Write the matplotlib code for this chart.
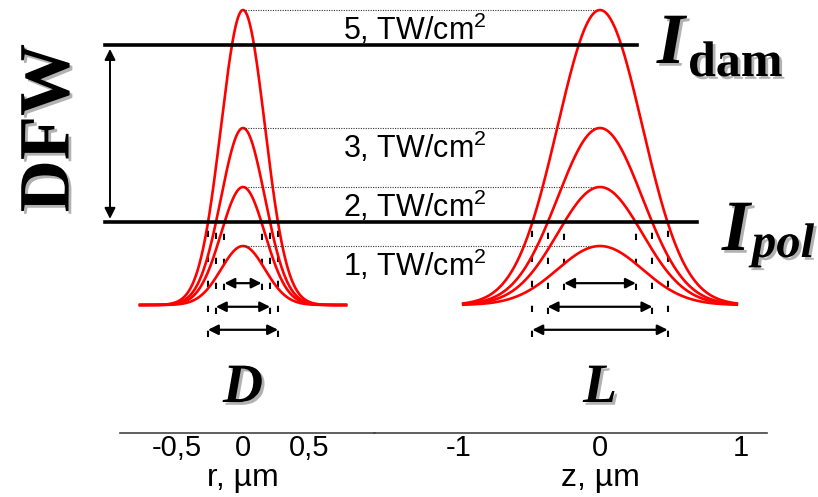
import numpy as np
import matplotlib.pyplot as plt
import matplotlib.patheffects as pe

plt.rcParams['font.family'] = ['Liberation Sans', 'DejaVu Sans']
plt.rcParams['mathtext.fontset'] = 'custom'
plt.rcParams['mathtext.rm'] = 'Liberation Sans'

# peak intensities of the pulses, TW/cm^2
peaks = [5, 3, 2, 1]
peak_labels = ["5, TW/cm$^{2}$", "3, TW/cm$^{2}$", "2, TW/cm$^{2}$", "1, TW/cm$^{2}$"]

# thresholds, TW/cm^2
I_DAM = 4.4
I_POL = 1.4

# gaussian half widths (1/e) of the profiles, um
W_R = 0.235
W_Z = 0.425
R_MAX = 0.78
Z_MAX = 0.97

# widths D and L are shown for these peaks, one row of arrows each
width_peaks = [2, 3, 5]
arrow_rows = [0.37, -0.03, -0.42]

r_ticks = [-0.5, 0, 0.5]
r_ticklabels = ["-0,5", "0", "0,5"]
z_ticks = [-1, 0, 1]
z_ticklabels = ["-1", "0", "1"]

# layout (pixels of the 818x497 picture)
W, H = 818, 497
R0_PX, R_SCALE = 243, 132
Z0_PX, Z_SCALE = 600, 141
BASE_PX, I_SCALE = 305, 59

fig = plt.figure(figsize=(W / 100, H / 100), dpi=100)
ax_r = fig.add_axes([0, 0, 1, 1])
ax_z = fig.add_axes([0, 0, 1, 1])
ax_z.patch.set_alpha(0)

ylim = (-(H - BASE_PX) / I_SCALE, BASE_PX / I_SCALE)
ax_r.set_xlim(-R0_PX / R_SCALE, (W - R0_PX) / R_SCALE)
ax_z.set_xlim(-Z0_PX / Z_SCALE, (W - Z0_PX) / Z_SCALE)
for ax in (ax_r, ax_z):
    ax.set_ylim(*ylim)
    for s in ('left', 'right', 'top'):
        ax.spines[s].set_visible(False)
    ax.set_yticks([])

red = '#ff0000'
r = np.linspace(-R_MAX, R_MAX, 400)
z = np.linspace(-Z_MAX, Z_MAX, 400)
for p in peaks:
    ax_r.plot(r, p * np.exp(-(r / W_R) ** 2), color=red, lw=1.9, zorder=3)
    ax_z.plot(z, p * np.exp(-(z / W_Z) ** 2), color=red, lw=1.9, zorder=3)

# dotted level lines from the D peak to the L peak
z_of_r0 = (R0_PX - Z0_PX) / Z_SCALE
for p, lab in zip(peaks, peak_labels):
    ax_z.hlines(p, z_of_r0, 0, colors='#333333', linestyles=(0, (1, 1.2)), lw=0.8, zorder=1)
    ax_z.text(-1.31, p - 0.33, lab, ha='center', va='center', fontsize=22)

# thresholds
ax_z.axhline(I_DAM, xmin=105 / W, xmax=637 / W, color='black', lw=2.6, zorder=4)
ax_z.axhline(I_POL, xmin=105 / W, xmax=697 / W, color='black', lw=2.6, zorder=4)
ax_z.annotate('', xy=(110 / W, I_DAM - 0.06), xytext=(110 / W, I_POL + 0.06),
              xycoords=ax_z.get_yaxis_transform(), textcoords=ax_z.get_yaxis_transform(),
              arrowprops=dict(arrowstyle='<|-|>', color='black', lw=1.4,
                              mutation_scale=16, shrinkA=0, shrinkB=0))

# widths at the polarisation threshold
for ax, w in ((ax_r, W_R), (ax_z, W_Z)):
    for p, row in zip(width_peaks, arrow_rows):
        half = w * np.sqrt(np.log(p / I_POL))
        ax.vlines([-half, half], row - 0.12, I_POL, colors='black',
                  linestyles=(0, (3, 9)), lw=1.5, zorder=2)
        ax.annotate('', xy=(-half, row), xytext=(half, row),
                    arrowprops=dict(arrowstyle='<|-|>', color='black', lw=1.6,
                                    mutation_scale=15, shrinkA=0, shrinkB=0))

# bottom axis
y_axis = (BASE_PX - 433) / I_SCALE
ax_r.spines['bottom'].set_position(('data', y_axis))
ax_r.spines['bottom'].set_bounds((120 - R0_PX) / R_SCALE, 1.0)
ax_z.spines['bottom'].set_position(('data', y_axis))
ax_z.spines['bottom'].set_bounds(-1.6, (767 - Z0_PX) / Z_SCALE)
for ax, ticks, labels, name, x0 in ((ax_r, r_ticks, r_ticklabels, "r, µm", R0_PX),
                                     (ax_z, z_ticks, z_ticklabels, "z, µm", Z0_PX)):
    ax.spines['bottom'].set_color('#444444')
    ax.spines['bottom'].set_linewidth(1.2)
    ax.set_xticks(ticks, labels=labels)
    ax.tick_params(axis='x', length=0, pad=1, labelsize=21)
    ax.set_xlabel(name, fontsize=23)
    ax.xaxis.set_label_coords(x0 / W, 1 - 463 / H)
    ax.xaxis.label.set_va('top')

shadow = [pe.withSimplePatchShadow(offset=(2, -2), shadow_rgbFace='black', alpha=0.3)]
serif = ['Liberation Serif', 'DejaVu Serif']
tr = ax_z.transAxes
ax_z.text(51 / W, 1 - 128 / H, "DFW", rotation=90, ha='center', va='center', transform=tr,
          fontsize=52, fontweight='bold', family=serif, path_effects=shadow)
ax_z.text(671 / W, 1 - 63 / H, "I", ha='center', va='baseline', transform=tr, fontsize=52,
          fontweight='bold', fontstyle='italic', family=serif, path_effects=shadow)
ax_z.text(688 / W, 1 - 76 / H, "dam", ha='left', va='baseline', transform=tr, fontsize=36,
          fontweight='bold', family=serif, path_effects=shadow)
ax_z.text(736 / W, 1 - 250 / H, "I", ha='center', va='baseline', transform=tr, fontsize=52,
          fontweight='bold', fontstyle='italic', family=serif, path_effects=shadow)
ax_z.text(752 / W, 1 - 257 / H, "pol", ha='left', va='baseline', transform=tr, fontsize=35,
          fontweight='bold', fontstyle='italic', family=serif, path_effects=shadow)
ax_r.text(0, (BASE_PX - 388) / I_SCALE, "D", ha='center', va='center', fontsize=40,
          fontweight='bold', fontstyle='italic', family=serif, path_effects=shadow)
ax_z.text(0, (BASE_PX - 388) / I_SCALE, "L", ha='center', va='center', fontsize=40,
          fontweight='bold', fontstyle='italic', family=serif, path_effects=shadow)

fig.savefig('out.png', dpi=100)
